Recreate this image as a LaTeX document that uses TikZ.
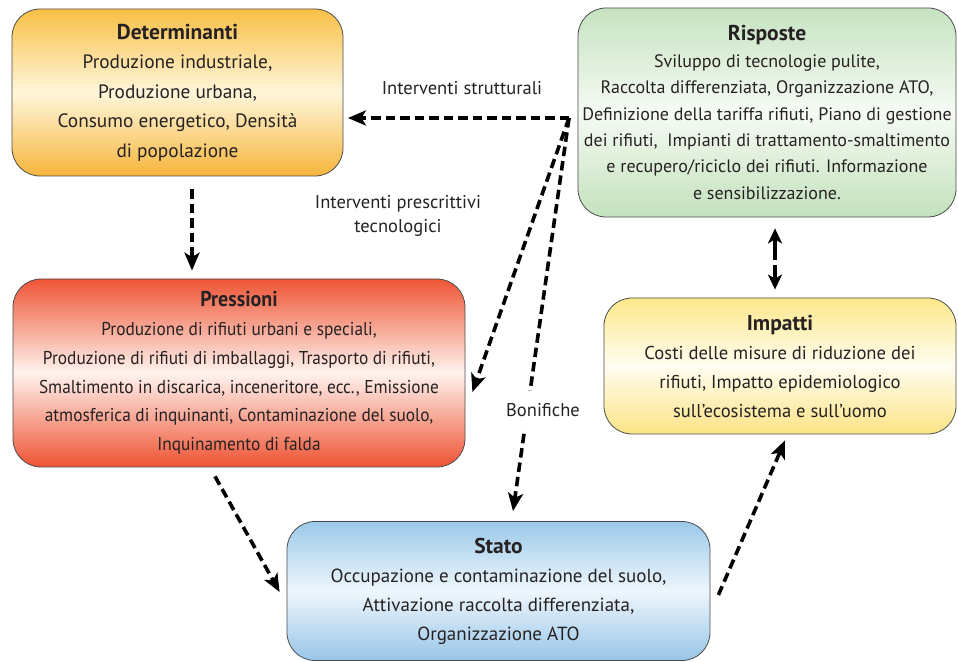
\documentclass[tikz,border=0pt]{standalone}
\usepackage{fontspec}
\setmainfont{PT Sans}
\newfontfamily\condfont{PT Sans}[FakeStretch=0.93]
\usetikzlibrary{arrows.meta,calc}
\definecolor{detT}{HTML}{F8BF45}
\definecolor{detM}{HTML}{FEF6DA}
\definecolor{detB}{HTML}{F7B53C}
\definecolor{preT}{HTML}{EE5535}
\definecolor{preM}{HTML}{FFF3EE}
\definecolor{preB}{HTML}{EE5232}
\definecolor{risT}{HTML}{C6E3C1}
\definecolor{risM}{HTML}{F6FBF4}
\definecolor{risB}{HTML}{C3E1BC}
\definecolor{impT}{HTML}{FDE88A}
\definecolor{impM}{HTML}{FFFDF0}
\definecolor{impB}{HTML}{FCE485}
\definecolor{staT}{HTML}{9CC9EA}
\definecolor{staM}{HTML}{EEF6FC}
\definecolor{staB}{HTML}{98C5E8}
\definecolor{txt}{HTML}{262223}
\newcommand\ttl[1]{{\fontsize{21.5}{29}\selectfont\bfseries #1}}
\tikzset{
  box/.style={draw=black!70, line width=0.8pt, rounded corners=28pt,
    align=center, text=txt, inner sep=0pt},
  lab/.style={text=txt, align=center, font=\fontsize{18.5}{24}\selectfont},
  arr/.style={line width=3.6pt, dash pattern=on 9.5pt off 5pt,
    -{Stealth[length=18pt,width=15pt,inset=4.5pt]}},
  darr/.style={line width=3.6pt, dash pattern=on 22pt off 5pt,
    {Stealth[length=15pt,width=14pt,inset=4pt]}-{Stealth[length=15pt,width=14pt,inset=4pt]}}
}
\begin{document}
\begin{tikzpicture}[x=1pt,y=1pt]
\useasboundingbox (0,0) rectangle (958,661);
\fill[white] (0,0) rectangle (958,661);

\node[box, minimum width=331pt, minimum height=167pt,
  top color=detT, bottom color=detB, middle color=detM,
  font=\fontsize{19.3}{29.5}\selectfont] (det) at (177.5,568.5)
  {\ttl{Determinanti}\\Produzione industriale,\\Produzione urbana,\\Consumo energetico, Densità\\di popolazione};

\node[box, minimum width=378pt, minimum height=209pt,
  top color=risT, bottom color=risB, middle color=risM,
  font=\fontsize{18}{26.4}\selectfont] (ris) at (767,548.5)
  {\ttl{Risposte}\\Sviluppo di tecnologie pulite,\\Raccolta differenziata, Organizzazione ATO,\\Definizione della tariffa rifiuti, Piano di gestione\\dei rifiuti,\ \ Impianti di trattamento-smaltimento\\e recupero/riciclo dei rifiuti. Informazione\\e sensibilizzazione.};

\node[box, minimum width=452pt, minimum height=188pt,
  top color=preT, bottom color=preB, middle color=preM,
  font=\condfont\fontsize{18.6}{28.8}\selectfont] (pre) at (239,288)
  {\ttl{Pressioni}\\Produzione di rifiuti urbani e speciali,\\Produzione di rifiuti di imballaggi, Trasporto di rifiuti,\\Smaltimento in discarica, inceneritore, ecc., Emissione\\atmosferica di inquinanti, Contaminazione del suolo,\\Inquinamento di falda};

\node[box, minimum width=352pt, minimum height=136pt,
  top color=impT, bottom color=impB, middle color=impM,
  font=\fontsize{18.6}{29}\selectfont] (imp) at (780,295)
  {\ttl{Impatti}\\Costi delle misure di riduzione dei\\rifiuti, Impatto epidemiologico\\sull’ecosistema e sull’uomo};

\node[box, minimum width=423pt, minimum height=139pt,
  top color=staT, bottom color=staB, middle color=staM,
  font=\fontsize{19}{29}\selectfont] (sta) at (498.5,70)
  {\ttl{Stato}\\Occupazione e contaminazione del suolo,\\Attivazione raccolta differenziata,\\Organizzazione ATO};

\coordinate (hub) at (569,543);

\node[lab] (lstr) at (462,573) {Interventi strutturali};
\node[lab] (lpre) at (398,445) {Interventi prescrittivi\\tecnologici};

\draw[arr] (hub) -- ($(hub -| det.east)+(4.5pt,0)$);
\draw[arr] (hub) -- ([xshift=7pt,yshift=-19pt]pre.east);
\draw[arr] (hub) -- ([xshift=14.5pt,yshift=10pt]sta.north);
\node[lab, fill=white, inner xsep=2pt, inner ysep=12pt] (bon) at (543,251) {Bonifiche};

\draw[arr] ([xshift=14.5pt,yshift=-13pt]det.south) -- ($([xshift=14.5pt]det.south |- pre.north)+(0,8pt)$);
\draw[arr] ([xshift=-24pt,yshift=-9pt]pre.south) -- ([xshift=-7pt,yshift=-1pt]sta.west);
\draw[arr] ([xshift=8pt,yshift=-4pt]sta.east) -- ([xshift=5pt,yshift=-6pt]imp.south);
\draw[darr] ([xshift=8pt,yshift=-11pt]ris.south) -- ($([xshift=8pt]ris.south |- imp.north)+(0,8pt)$);
\end{tikzpicture}
\end{document}
